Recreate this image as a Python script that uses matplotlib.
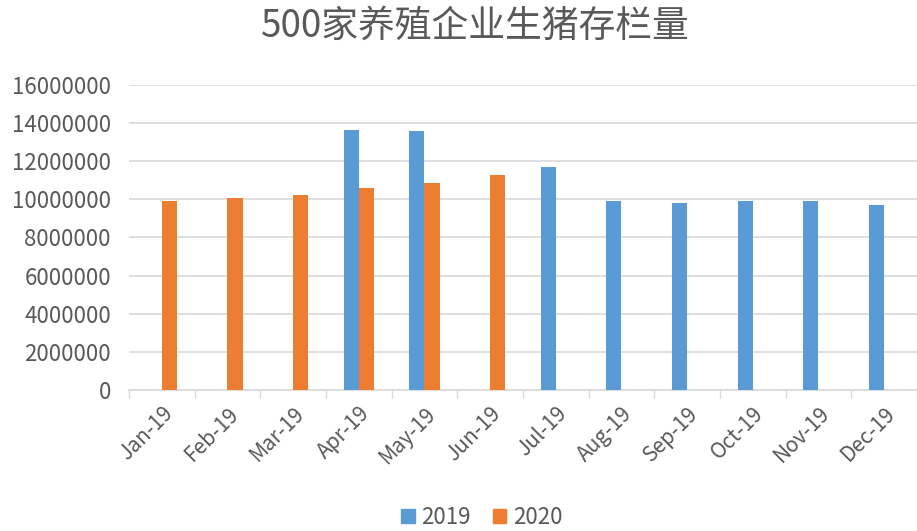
import matplotlib
matplotlib.use("Agg")
import matplotlib.pyplot as plt
import numpy as np
from matplotlib.patches import Patch

plt.rcParams['font.family'] = ['Noto Sans CJK SC', 'DejaVu Sans']

months = ["Jan-19", "Feb-19", "Mar-19", "Apr-19", "May-19", "Jun-19",
          "Jul-19", "Aug-19", "Sep-19", "Oct-19", "Nov-19", "Dec-19"]
s2019 = [np.nan, np.nan, np.nan, 13630000, 13560000, np.nan,
         11670000, 9920000, 9780000, 9920000, 9920000, 9710000]
s2020 = [9920000, 10060000, 10200000, 10600000, 10870000, 11270000,
         np.nan, np.nan, np.nan, np.nan, np.nan, np.nan]
yticks = [0, 2000000, 4000000, 6000000, 8000000, 10000000, 12000000, 14000000, 16000000]
title = "500家养殖企业生猪存栏量"

blue = "#5B9BD5"
orange = "#ED7D31"
gray = "#595959"

W, H = 917, 531
fig = plt.figure(figsize=(W/100, H/100), dpi=100)
ax = fig.add_axes([129/W, 1-390/H, (917-129)/W, (390-84.7)/H])

x = np.arange(len(months))
bw = 0.23
ax.bar(x - bw/2, np.nan_to_num(s2019), width=bw, color=blue, zorder=3)
ax.bar(x + bw/2, np.nan_to_num(s2020), width=bw, color=orange, zorder=3)

ax.set_xlim(-0.5, len(months) - 0.5)
ax.set_ylim(0, 16000000)
ax.set_yticks(yticks)
ax.set_yticklabels([str(v) for v in yticks], fontsize=16, color=gray)
ax.yaxis.grid(True, color="#d9d9d9", linewidth=1.2, zorder=0)
ax.tick_params(axis='y', length=0, pad=13)

ax.set_xticks(x)
ax.set_xticklabels(months, rotation=45, ha='right', va='top',
                   rotation_mode='anchor', fontsize=15, color=gray)
ax.tick_params(axis='x', which='major', length=0, pad=9)
ax.set_xticks(np.arange(-0.5, len(months), 1), minor=True)
ax.tick_params(axis='x', which='minor', length=6, width=1, color="#d9d9d9")

for s in ['top', 'right', 'left']:
    ax.spines[s].set_visible(False)
ax.spines['bottom'].set_color("#d9d9d9")
ax.spines['bottom'].set_linewidth(1.2)

fig.text(475/W, 1-26/H, title, ha='center', va='center', fontsize=26.5, color=gray)

handles = [Patch(color=blue, label="2019"), Patch(color=orange, label="2020")]
fig.legend(handles=handles, loc='center', bbox_to_anchor=(482/W, 1-517/H), ncol=2,
           frameon=False, fontsize=16, labelcolor=gray, handlelength=0.6,
           handleheight=0.6, handletextpad=0.3, columnspacing=1.0)

fig.savefig("out.png", dpi=100)
